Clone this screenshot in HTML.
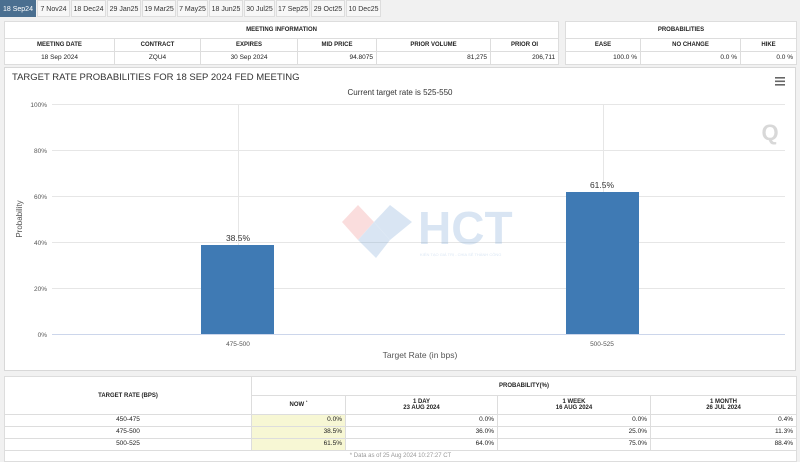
<!DOCTYPE html>
<html><head><meta charset="utf-8"><style>
*{box-sizing:border-box;margin:0;padding:0}
body{width:800px;height:461px;background:#f1f1f1;font-family:"Liberation Sans",sans-serif;position:relative;overflow:hidden}
.tab{position:absolute;top:0;height:17px;font-size:7px;line-height:17px;text-align:center;background:#f7f7f7;border:1px solid #ddd;color:#333}
.tab.a{background:#4a6f90;color:#fff;border-color:#4a6f90}
table{position:absolute;border-collapse:collapse;background:#fff;font-size:6.5px;color:#222;table-layout:fixed}
td{border:1px solid #ddd;padding:0 3px;height:12px;line-height:1}
.h{font-weight:bold;text-align:center;font-size:6px}
.r{text-align:right}.c{text-align:center}
.y{background:#f7f7d4}
sup{font-size:4px;line-height:0}
</style></head><body>
<div class="tab a" style="left:0;width:36px">18 Sep24</div>
<div class="tab" style="left:37px;width:33px">7 Nov24</div>
<div class="tab" style="left:71px;width:35px">18 Dec24</div>
<div class="tab" style="left:107px;width:34px">29 Jan25</div>
<div class="tab" style="left:142px;width:34px">19 Mar25</div>
<div class="tab" style="left:177px;width:31px">7 May25</div>
<div class="tab" style="left:209px;width:34px">18 Jun25</div>
<div class="tab" style="left:244px;width:31px">30 Jul25</div>
<div class="tab" style="left:276px;width:34px">17 Sep25</div>
<div class="tab" style="left:311px;width:34px">29 Oct25</div>
<div class="tab" style="left:346px;width:35px">10 Dec25</div>

<table style="left:4px;top:21px;width:554px">
<colgroup><col style="width:110px"><col style="width:86px"><col style="width:97px"><col style="width:79px"><col style="width:114px"><col style="width:68px"></colgroup>
<tr><td class="h" colspan="6" style="height:17px">MEETING INFORMATION</td></tr>
<tr><td class="h" style="height:13px">MEETING DATE</td><td class="h">CONTRACT</td><td class="h">EXPIRES</td><td class="h">MID PRICE</td><td class="h">PRIOR VOLUME</td><td class="h">PRIOR OI</td></tr>
<tr><td class="c" style="height:13px">18 Sep 2024</td><td class="c">ZQU4</td><td class="c">30 Sep 2024</td><td class="r">94.8075</td><td class="r">81,275</td><td class="r">206,711</td></tr>
</table>
<table style="left:565px;top:21px;width:231px">
<colgroup><col style="width:75px"><col style="width:100px"><col style="width:56px"></colgroup>
<tr><td class="h" colspan="3" style="height:17px">PROBABILITIES</td></tr>
<tr><td class="h" style="height:13px">EASE</td><td class="h">NO CHANGE</td><td class="h">HIKE</td></tr>
<tr><td class="r" style="height:13px">100.0 %</td><td class="r">0.0 %</td><td class="r">0.0 %</td></tr>
</table>

<div style="position:absolute;left:4px;top:67px;width:792px;height:304px;background:#fff;border:1px solid #d8d8d8"></div>
<svg style="position:absolute;left:0;top:0" width="800" height="461" font-family="Liberation Sans, sans-serif">
<text x="12" y="80" font-size="9.5" fill="#333">TARGET RATE PROBABILITIES FOR 18 SEP 2024 FED MEETING</text>
<text x="400" y="95" font-size="8" fill="#333" text-anchor="middle">Current target rate is 525-550</text>
<g fill="#666"><rect x="775" y="77" width="10" height="1.6"/><rect x="775" y="80.5" width="10" height="1.6"/><rect x="775" y="84" width="10" height="1.6"/></g>
<text x="770" y="140" font-size="22" font-weight="bold" fill="#d8d8d8" text-anchor="middle">Q</text>
<g stroke="#e6e6e6" stroke-width="1">
<line x1="52" y1="104.5" x2="785" y2="104.5"/><line x1="52" y1="150.5" x2="785" y2="150.5"/><line x1="52" y1="196.5" x2="785" y2="196.5"/><line x1="52" y1="242.5" x2="785" y2="242.5"/><line x1="52" y1="288.5" x2="785" y2="288.5"/>
<line x1="238.5" y1="104" x2="238.5" y2="334"/><line x1="603.5" y1="104" x2="603.5" y2="334"/>
</g>
<line x1="52" y1="334.5" x2="785" y2="334.5" stroke="#ccd6eb"/>
<g opacity="0.28">
<polygon points="342,222 358,205 374,222 358,240" fill="#e88"/>
<polygon points="374,222 390,205 412,222 390,240" fill="#7aa6d6"/>
<polygon points="358,240 374,222 390,240 376,258" fill="#7aa6d6"/>
<text x="418" y="244" font-size="46" font-weight="bold" fill="#7aa6d6">HCT</text>
<text x="420" y="256" font-size="4" fill="#7aa6d6">KIẾN TẠO GIÁ TRỊ - CHIA SẺ THÀNH CÔNG</text>
</g>
<g font-size="6.5" fill="#555" text-anchor="end">
<text x="47" y="107">100%</text><text x="47" y="153">80%</text><text x="47" y="199">60%</text><text x="47" y="245">40%</text><text x="47" y="291">20%</text><text x="47" y="337">0%</text>
</g>
<text transform="translate(22,219) rotate(-90)" font-size="8" fill="#555" text-anchor="middle">Probability</text>
<rect x="201" y="245" width="73" height="89" fill="#3f7ab4"/>
<rect x="566" y="192" width="73" height="142" fill="#3f7ab4"/>
<text x="238" y="241" font-size="8.5" fill="#333" text-anchor="middle">38.5%</text>
<text x="602" y="188" font-size="8.5" fill="#333" text-anchor="middle">61.5%</text>
<text x="238" y="346" font-size="6.5" fill="#555" text-anchor="middle">475-500</text>
<text x="602" y="346" font-size="6.5" fill="#555" text-anchor="middle">500-525</text>
<text x="420" y="358" font-size="8.5" fill="#555" text-anchor="middle">Target Rate (in bps)</text>
</svg>

<table style="left:4px;top:376px;width:792px">
<colgroup><col style="width:247px"><col style="width:94px"><col style="width:152px"><col style="width:153px"><col style="width:146px"></colgroup>
<tr><td class="h" rowspan="2">TARGET RATE (BPS)</td><td class="h" colspan="4" style="height:19px">PROBABILITY(%)</td></tr>
<tr><td class="h" style="height:19px">NOW <sup>*</sup></td><td class="h">1 DAY<br>23 AUG 2024</td><td class="h">1 WEEK<br>16 AUG 2024</td><td class="h">1 MONTH<br>26 JUL 2024</td></tr>
<tr><td class="c">450-475</td><td class="r y">0.0%</td><td class="r">0.0%</td><td class="r">0.0%</td><td class="r">0.4%</td></tr>
<tr><td class="c">475-500</td><td class="r y">38.5%</td><td class="r">36.0%</td><td class="r">25.0%</td><td class="r">11.3%</td></tr>
<tr><td class="c">500-525</td><td class="r y">61.5%</td><td class="r">64.0%</td><td class="r">75.0%</td><td class="r">88.4%</td></tr>
<tr><td colspan="5" class="c" style="color:#999;font-size:6px;height:11px">* Data as of 25 Aug 2024 10:27:27 CT</td></tr>
</table>
</body></html>
